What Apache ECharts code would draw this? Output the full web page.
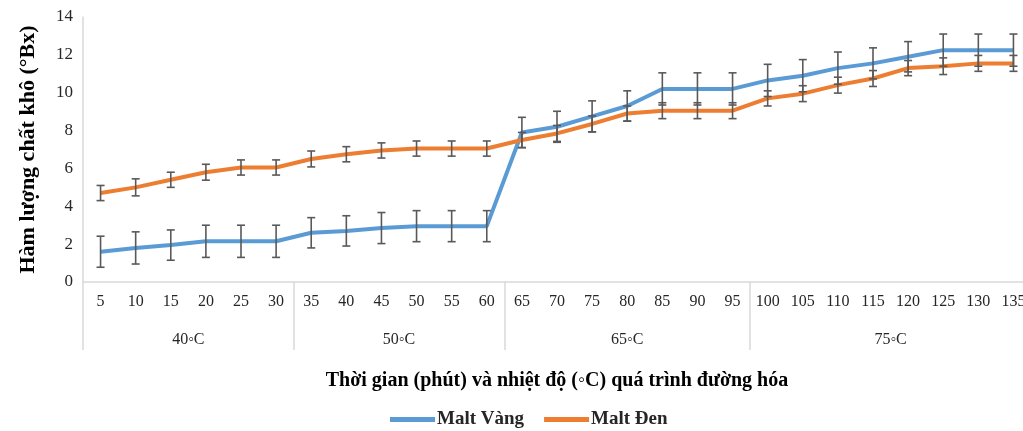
<!DOCTYPE html>
<html>
<head>
<meta charset="utf-8">
<script src="https://cdn.jsdelivr.net/npm/echarts@6/dist/echarts.min.js"></script>
<style>
  html, body { margin: 0; padding: 0; background: #fff; }
  #chart { width: 1023px; height: 431px; }
</style>
</head>
<body>
<div id="chart"></div>
<script>
// thoi gian (phut)
const minutes = ['5','10','15','20','25','30','35','40','45','50','55','60','65','70','75','80','85','90','95',
  '100','105','110','115','120','125','130','135']

// nhom nhiet do, so diem trong moi nhom
const groupNames = ['40◦C', '50◦C', '65◦C', '75◦C']
const groupSizes = [6, 6, 7, 8]

const maltVang = [1.6, 1.8, 1.95, 2.15, 2.15, 2.15, 2.6, 2.7, 2.85, 2.95, 2.95, 2.95,
  7.9, 8.2, 8.75, 9.3, 10.2, 10.2, 10.2, 10.65, 10.9, 11.3, 11.55, 11.9, 12.25, 12.25, 12.25]
const maltVangErr = [0.82, 0.85, 0.8, 0.85, 0.85, 0.85, 0.8, 0.8, 0.82, 0.82, 0.82, 0.82,
  0.8, 0.82, 0.82, 0.8, 0.85, 0.85, 0.85, 0.85, 0.85, 0.85, 0.82, 0.8, 0.85, 0.85, 0.85]

const maltDen = [4.7, 5.0, 5.4, 5.8, 6.05, 6.05, 6.5, 6.75, 6.95, 7.05, 7.05, 7.05,
  7.5, 7.85, 8.35, 8.9, 9.05, 9.05, 9.05, 9.7, 9.95, 10.4, 10.75, 11.3, 11.4, 11.55, 11.55]
const maltDenErr = [0.4, 0.45, 0.4, 0.42, 0.4, 0.4, 0.42, 0.4, 0.4, 0.4, 0.4, 0.4,
  0.4, 0.42, 0.42, 0.4, 0.42, 0.42, 0.42, 0.4, 0.42, 0.42, 0.42, 0.4, 0.44, 0.42, 0.42]

// truc phu: moi diem chia lam 2 nua -> 2*n+1 vi tri (boundaryGap false)
const halfSteps = []
const groupLabelAt = {}
const separatorAt = {0: true}
let pos = 0
groupSizes.forEach((n, g) => {
  groupLabelAt[pos + n] = groupNames[g]   // giua nhom
  pos += 2 * n
  separatorAt[pos] = true
})
for (let j = 0; j <= pos; j++) halfSteps.push(groupLabelAt[j] || '')

const serif = 'Liberation Serif'
const textColor = '#262626'

function errorBar(color) {
  return function (params, api) {
    const x = api.value(0), v = api.value(1), e = api.value(2)
    const top = api.coord([x, v + e])
    const bot = api.coord([x, v - e])
    const w = 4
    const style = { stroke: color, lineWidth: 1.6 }
    return {
      type: 'group',
      children: [
        { type: 'line', shape: { x1: top[0], y1: top[1], x2: bot[0], y2: bot[1] }, style: style },
        { type: 'line', shape: { x1: top[0] - w, y1: top[1], x2: top[0] + w, y2: top[1] }, style: style },
        { type: 'line', shape: { x1: bot[0] - w, y1: bot[1], x2: bot[0] + w, y2: bot[1] }, style: style }
      ]
    }
  }
}

let myChart = echarts.init(document.getElementById('chart'))

myChart.setOption({
  animation: false,
  grid: { left: 83, top: 17, width: 948, height: 265, containLabel: false, outerBoundsMode: 'none' },
  legend: {
    data: ['Malt Vàng', 'Malt Đen'],
    left: 385,
    top: 405,
    itemWidth: 45,
    itemHeight: 5,
    itemGap: 20,
    icon: 'rect',
    textStyle: { fontFamily: serif, fontWeight: 'bold', fontSize: 19, color: textColor, padding: [0, 0, 0, -3] }
  },
  xAxis: [
    {
      type: 'category',
      data: minutes,
      axisLine: { lineStyle: { color: '#d9d9d9', width: 1.5 } },
      axisTick: { show: false },
      axisLabel: { interval: 0, margin: 12, fontFamily: serif, fontSize: 16, color: textColor }
    },
    {
      type: 'category',
      position: 'bottom',
      boundaryGap: false,
      data: halfSteps,
      axisLine: { show: false },
      axisTick: {
        show: true,
        length: 68,
        interval: (i) => !!separatorAt[i],
        lineStyle: { color: '#d9d9d9', width: 1.5 }
      },
      axisLabel: {
        interval: (i) => !!groupLabelAt[i],
        margin: 50,
        fontFamily: serif, fontSize: 16, color: textColor
      },
      name: 'Thời gian (phút) và nhiệt độ (◦C) quá trình đường hóa',
      nameLocation: 'middle',
      nameGap: 89,
      nameTextStyle: { fontFamily: serif, fontWeight: 'bold', fontSize: 20, color: '#000' }
    }
  ],
  yAxis: {
    type: 'value',
    min: 0,
    max: 14,
    interval: 2,
    splitLine: { show: false },
    axisLine: { show: true, lineStyle: { color: '#d9d9d9', width: 1.5 } },
    axisTick: { show: false },
    axisLabel: { margin: 10, fontFamily: serif, fontSize: 17, color: textColor },
    name: 'Hàm lượng chất khô (°Bx)',
    nameLocation: 'middle',
    nameRotate: 90,
    nameGap: 44,
    nameTextStyle: { fontFamily: serif, fontWeight: 'bold', fontSize: 22, color: '#000' }
  },
  series: [
    {
      name: 'Malt Vàng',
      type: 'line',
      data: maltVang,
      symbol: 'none',
      itemStyle: { color: '#5b9bd5' },
      lineStyle: { color: '#5b9bd5', width: 4 },
      z: 2
    },
    {
      name: 'Malt Đen',
      type: 'line',
      data: maltDen,
      symbol: 'none',
      itemStyle: { color: '#ed7d31' },
      lineStyle: { color: '#ed7d31', width: 4 },
      z: 2
    },
    {
      name: 'errVang',
      type: 'custom',
      renderItem: errorBar('#595959'),
      data: maltVang.map((v, i) => [i, v, maltVangErr[i]]),
      encode: { x: 0, y: 1 },
      z: 5
    },
    {
      name: 'errDen',
      type: 'custom',
      renderItem: errorBar('#595959'),
      data: maltDen.map((v, i) => [i, v, maltDenErr[i]]),
      encode: { x: 0, y: 1 },
      z: 5
    }
  ]
})
</script>
</body>
</html>
